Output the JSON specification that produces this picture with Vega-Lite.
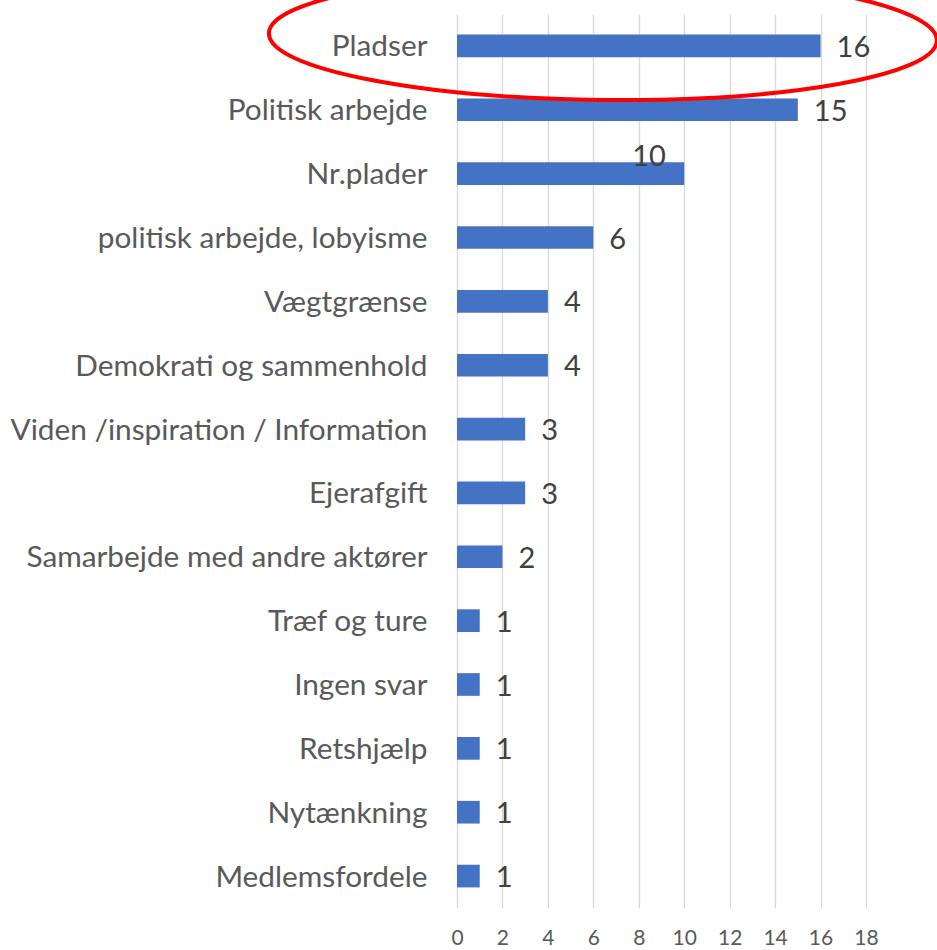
{
  "$schema": "https://vega.github.io/schema/vega-lite/v6.json",
  "autosize": {"type": "none"},
  "padding": {"left": 457, "top": 14, "right": 71, "bottom": 42},
  "width": 409,
  "height": 894,
  "background": "#ffffff",
  "config": {"view": {"stroke": null}, "font": "Lato"},
  "data": {
    "values": [
      {"cat": "Pladser", "v": 16},
      {"cat": "Politisk arbejde", "v": 15},
      {"cat": "Nr.plader", "v": 10},
      {"cat": "politisk arbejde, lobyisme", "v": 6},
      {"cat": "Vægtgrænse", "v": 4},
      {"cat": "Demokrati og sammenhold", "v": 4},
      {"cat": "Viden /inspiration / Information", "v": 3},
      {"cat": "Ejerafgift", "v": 3},
      {"cat": "Samarbejde med andre aktører", "v": 2},
      {"cat": "Træf og ture", "v": 1},
      {"cat": "Ingen svar", "v": 1},
      {"cat": "Retshjælp", "v": 1},
      {"cat": "Nytænkning", "v": 1},
      {"cat": "Medlemsfordele", "v": 1}
    ]
  },
  "encoding": {
    "y": {
      "field": "cat",
      "type": "nominal",
      "sort": null,
      "scale": {"paddingInner": 0.645, "paddingOuter": 0.3225},
      "axis": {
        "title": null,
        "domain": false,
        "ticks": false,
        "grid": false,
        "labelPadding": 30,
        "labelFont": "Lato",
        "labelFontSize": 29.8,
        "labelColor": "#595959",
        "labelLimit": 600,
        "labelOffset": 1.5
      }
    },
    "x": {
      "field": "v",
      "type": "quantitative",
      "scale": {"domain": [0, 18], "nice": false},
      "axis": {
        "title": null,
        "values": [0, 2, 4, 6, 8, 10, 12, 14, 16, 18],
        "domain": false,
        "ticks": false,
        "grid": true,
        "gridColor": "#d9d9d9",
        "gridWidth": 1.3,
        "labelPadding": 19,
        "labelFlush": false,
        "labelFont": "Lato",
        "labelFontSize": 21,
        "labelColor": "#595959"
      }
    }
  },
  "layer": [
    {"mark": {"type": "bar", "color": "#4472C4"}},
    {
      "transform": [{"filter": "datum.v != 10"}],
      "mark": {"type": "text", "align": "left", "baseline": "middle", "dx": 16, "dy": 2, "fontSize": 29, "font": "Lato", "color": "#404040"},
      "encoding": {"text": {"field": "v", "type": "quantitative"}}
    },
    {
      "transform": [{"filter": "datum.v == 10"}],
      "mark": {"type": "text", "align": "left", "baseline": "middle", "dx": -52, "dy": -17, "fontSize": 29, "font": "Lato", "color": "#404040"},
      "encoding": {"text": {"field": "v", "type": "quantitative"}}
    },
    {
      "transform": [{"filter": "datum.cat == 'Pladser'"}],
      "mark": {
        "type": "point",
        "shape": "M-1,0 C-1,-0.1042 -0.5523,-0.1886 0,-0.1886 C0.5523,-0.1886 1,-0.1042 1,0 C1,0.1042 0.5523,0.1886 0,0.1886 C-0.5523,0.1886 -1,0.1042 -1,0 Z",
        "size": 446224,
        "filled": false,
        "stroke": "#FF0000",
        "strokeWidth": 4,
        "opacity": 1,
        "angle": 0.6,
        "yOffset": -9
      },
      "encoding": {"x": {"datum": 6.42}}
    }
  ]
}
